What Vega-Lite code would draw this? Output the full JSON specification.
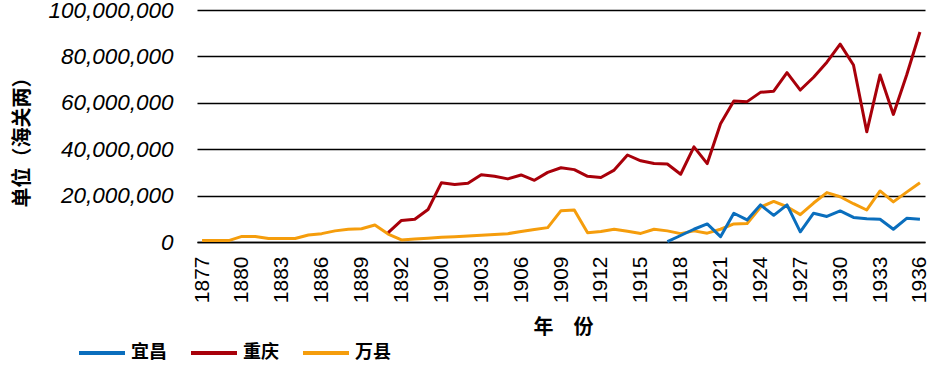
{
  "$schema": "https://vega.github.io/schema/vega-lite/v6.json",
  "autosize": {"type": "none"},
  "padding": {"left": 197, "top": 10, "right": 21, "bottom": 125},
  "width": 728,
  "height": 232,
  "background": "white",
  "config": {"view": {"stroke": null}},
  "data": {
    "values": [
      {"year":"1877","city":"万县","value":600000},{"year":"1878","city":"万县","value":600000},{"year":"1879","city":"万县","value":600000},{"year":"1880","city":"万县","value":2400000},{"year":"1881","city":"万县","value":2400000},{"year":"1882","city":"万县","value":1500000},{"year":"1883","city":"万县","value":1500000},{"year":"1884","city":"万县","value":1500000},{"year":"1885","city":"万县","value":3000000},{"year":"1886","city":"万县","value":3600000},{"year":"1887","city":"万县","value":4800000},{"year":"1888","city":"万县","value":5500000},{"year":"1889","city":"万县","value":5700000},{"year":"1890","city":"万县","value":7300000},{"year":"1891","city":"万县","value":3400000},{"year":"1892","city":"万县","value":900000},{"year":"1898","city":"万县","value":1300000},{"year":"1899","city":"万县","value":1600000},{"year":"1900","city":"万县","value":2000000},{"year":"1901","city":"万县","value":2300000},{"year":"1902","city":"万县","value":2600000},{"year":"1903","city":"万县","value":2900000},{"year":"1904","city":"万县","value":3200000},{"year":"1905","city":"万县","value":3600000},{"year":"1906","city":"万县","value":4500000},{"year":"1907","city":"万县","value":5400000},{"year":"1908","city":"万县","value":6200000},{"year":"1909","city":"万县","value":13500000},{"year":"1910","city":"万县","value":13800000},{"year":"1911","city":"万县","value":4000000},{"year":"1912","city":"万县","value":4500000},{"year":"1913","city":"万县","value":5500000},{"year":"1914","city":"万县","value":4600000},{"year":"1915","city":"万县","value":3700000},{"year":"1916","city":"万县","value":5500000},{"year":"1917","city":"万县","value":4800000},{"year":"1918","city":"万县","value":3600000},{"year":"1919","city":"万县","value":4800000},{"year":"1920","city":"万县","value":3800000},{"year":"1921","city":"万县","value":5500000},{"year":"1922","city":"万县","value":7800000},{"year":"1923","city":"万县","value":8000000},{"year":"1924","city":"万县","value":15000000},{"year":"1925","city":"万县","value":17500000},{"year":"1926","city":"万县","value":15200000},{"year":"1927","city":"万县","value":11800000},{"year":"1928","city":"万县","value":16800000},{"year":"1929","city":"万县","value":21300000},{"year":"1930","city":"万县","value":19500000},{"year":"1931","city":"万县","value":16500000},{"year":"1932","city":"万县","value":13800000},{"year":"1933","city":"万县","value":22000000},{"year":"1934","city":"万县","value":17300000},{"year":"1935","city":"万县","value":21500000},{"year":"1936","city":"万县","value":25500000},
      {"year":"1891","city":"重庆","value":4000000},{"year":"1892","city":"重庆","value":9300000},{"year":"1898","city":"重庆","value":9800000},{"year":"1899","city":"重庆","value":14000000},{"year":"1900","city":"重庆","value":25500000},{"year":"1901","city":"重庆","value":24800000},{"year":"1902","city":"重庆","value":25300000},{"year":"1903","city":"重庆","value":29000000},{"year":"1904","city":"重庆","value":28300000},{"year":"1905","city":"重庆","value":27200000},{"year":"1906","city":"重庆","value":28900000},{"year":"1907","city":"重庆","value":26600000},{"year":"1908","city":"重庆","value":30000000},{"year":"1909","city":"重庆","value":32000000},{"year":"1910","city":"重庆","value":31200000},{"year":"1911","city":"重庆","value":28300000},{"year":"1912","city":"重庆","value":27800000},{"year":"1913","city":"重庆","value":31000000},{"year":"1914","city":"重庆","value":37500000},{"year":"1915","city":"重庆","value":35000000},{"year":"1916","city":"重庆","value":33800000},{"year":"1917","city":"重庆","value":33600000},{"year":"1918","city":"重庆","value":29200000},{"year":"1919","city":"重庆","value":41000000},{"year":"1920","city":"重庆","value":33800000},{"year":"1921","city":"重庆","value":51000000},{"year":"1922","city":"重庆","value":60800000},{"year":"1923","city":"重庆","value":60500000},{"year":"1924","city":"重庆","value":64500000},{"year":"1925","city":"重庆","value":65000000},{"year":"1926","city":"重庆","value":73000000},{"year":"1927","city":"重庆","value":65500000},{"year":"1928","city":"重庆","value":71000000},{"year":"1929","city":"重庆","value":77500000},{"year":"1930","city":"重庆","value":85300000},{"year":"1931","city":"重庆","value":76300000},{"year":"1932","city":"重庆","value":47500000},{"year":"1933","city":"重庆","value":72000000},{"year":"1934","city":"重庆","value":55000000},{"year":"1935","city":"重庆","value":72000000},{"year":"1936","city":"重庆","value":90500000},
      {"year":"1917","city":"宜昌","value":200000},{"year":"1918","city":"宜昌","value":2800000},{"year":"1919","city":"宜昌","value":5500000},{"year":"1920","city":"宜昌","value":7800000},{"year":"1921","city":"宜昌","value":2300000},{"year":"1922","city":"宜昌","value":12400000},{"year":"1923","city":"宜昌","value":9500000},{"year":"1924","city":"宜昌","value":16000000},{"year":"1925","city":"宜昌","value":11500000},{"year":"1926","city":"宜昌","value":16000000},{"year":"1927","city":"宜昌","value":4400000},{"year":"1928","city":"宜昌","value":12400000},{"year":"1929","city":"宜昌","value":11000000},{"year":"1930","city":"宜昌","value":13400000},{"year":"1931","city":"宜昌","value":10600000},{"year":"1932","city":"宜昌","value":10000000},{"year":"1933","city":"宜昌","value":9800000},{"year":"1934","city":"宜昌","value":5500000},{"year":"1935","city":"宜昌","value":10200000},{"year":"1936","city":"宜昌","value":9800000}
    ]
  },
  "mark": {"type": "line", "strokeWidth": 3, "strokeJoin": "round"},
  "encoding": {
    "x": {
      "field": "year", "type": "ordinal",
      "scale": {"type": "point", "padding": 0.38},
      "axis": {
        "title": "年　份",
        "titleFont": "Noto Sans CJK SC", "titleFontSize": 20, "titleFontWeight": "bold", "titleColor": "black",
        "titleX": 366, "titleY": 85, "titleAnchor": null, "titleAlign": "center", "titleBaseline": "middle",
        "values": ["1877","1880","1883","1886","1889","1892","1900","1903","1906","1909","1912","1915","1918","1921","1924","1927","1930","1933","1936"],
        "labelAngle": -90, "labelFont": "Liberation Sans", "labelFontSize": 21, "labelColor": "black",
        "labelPadding": 14, "labelOverlap": false, "labelBound": false,
        "ticks": false, "domain": true, "domainColor": "black", "domainWidth": 1.3, "grid": false
      }
    },
    "y": {
      "field": "value", "type": "quantitative",
      "scale": {"domain": [0, 100000000], "nice": false},
      "axis": {
        "title": "单位（海关两）",
        "titleFont": "Noto Sans CJK SC", "titleFontSize": 20, "titleFontWeight": "bold", "titleColor": "black",
        "titleX": -175, "titleY": 127, "titleAngle": -90, "titleAlign": "center", "titleBaseline": "middle", "titleAnchor": null,
        "values": [0, 20000000, 40000000, 60000000, 80000000, 100000000],
        "format": ",d",
        "labelFont": "Liberation Sans", "labelFontSize": 22.5, "labelFontStyle": "italic", "labelColor": "black",
        "labelPadding": 24, "labelBound": false,
        "ticks": false, "domain": false,
        "grid": true, "gridColor": "black", "gridWidth": 1.3
      }
    },
    "color": {
      "field": "city", "type": "nominal",
      "scale": {"domain": ["宜昌", "重庆", "万县"], "range": ["#0A6EBD", "#A8000A", "#F59D0C"]},
      "legend": {
        "title": null, "orient": "none", "direction": "horizontal",
        "legendX": -120, "legendY": 318,
        "symbolType": "stroke", "symbolSize": 2116, "symbolStrokeWidth": 4,
        "labelFont": "Noto Sans CJK SC", "labelFontSize": 18, "labelFontWeight": "bold", "labelColor": "black",
        "labelOffset": 4, "columnPadding": 16
      }
    }
  }
}
